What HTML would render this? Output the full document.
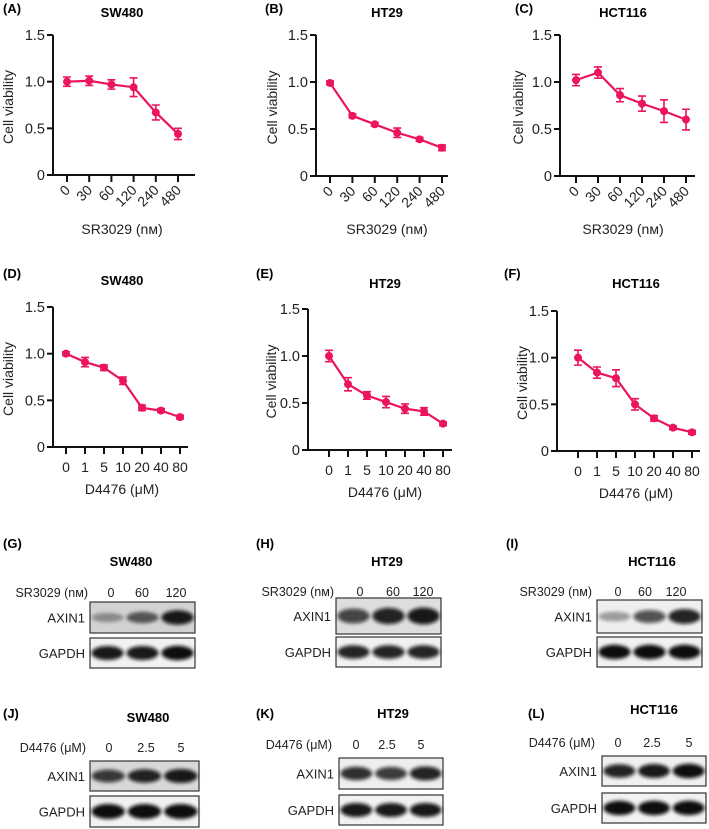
<!DOCTYPE html>
<html><head><meta charset="utf-8"><style>
html,body{margin:0;padding:0;background:#fff}
svg{display:block;font-family:"Liberation Sans",Arial,sans-serif}
</style></head><body>
<svg id="fig" width="709" height="829" viewBox="0 0 709 829" xmlns="http://www.w3.org/2000/svg">
<defs>
<filter id="blur" x="-30%" y="-100%" width="160%" height="300%"><feGaussianBlur stdDeviation="1.8"/></filter>
</defs>
</svg>
<script>
// ---- chart data ----
const srDoses = ["0","30","60","120","240","480"];
const d4Doses = ["0","1","5","10","20","40","80"];
const yTicks = [0, 0.5, 1.0, 1.5];
const yTickLabels = ["0","0.5","1.0","1.5"];
const sw480SR = [1.00, 1.01, 0.97, 0.94, 0.67, 0.44];
const sw480SRErr = [0.05, 0.05, 0.05, 0.10, 0.08, 0.06];
const ht29SR = [0.99, 0.64, 0.55, 0.46, 0.39, 0.30];
const ht29SRErr = [0.02, 0.02, 0.02, 0.05, 0.02, 0.03];
const hct116SR = [1.02, 1.10, 0.86, 0.77, 0.69, 0.60];
const hct116SRErr = [0.06, 0.06, 0.07, 0.08, 0.12, 0.11];
const sw480D4 = [1.00, 0.91, 0.85, 0.71, 0.42, 0.39, 0.32];
const sw480D4Err = [0.02, 0.05, 0.03, 0.04, 0.03, 0.02, 0.02];
const ht29D4 = [1.00, 0.70, 0.58, 0.51, 0.44, 0.41, 0.28];
const ht29D4Err = [0.06, 0.07, 0.04, 0.06, 0.05, 0.04, 0.02];
const hct116D4 = [1.00, 0.84, 0.78, 0.50, 0.35, 0.25, 0.20];
const hct116D4Err = [0.08, 0.06, 0.09, 0.06, 0.03, 0.02, 0.02];

const NS = "http://www.w3.org/2000/svg";
const svg = document.getElementById("fig");
const COL = "#EC135F";
function mk(tag, attrs, parent, text){
  const e = document.createElementNS(NS, tag);
  for (const k in attrs) e.setAttribute(k, attrs[k]);
  if (text !== undefined) e.textContent = text;
  (parent || svg).appendChild(e);
  return e;
}

const panels = [
 {id:"a",letter:"(A)",title:"SW480",lx:3,ly:13,tx:122,ty:17,ax:53,y0:175,y15:35,x0:67,dx:22.2,xend:195,cats:srDoses,vals:sw480SR,errs:sw480SRErr,rot:true,xt:"SR3029 (nм)",xtx:122,xty:234,yl:8},
 {id:"b",letter:"(B)",title:"HT29",lx:265,ly:13,tx:387,ty:17,ax:316,y0:176,y15:35,x0:330,dx:22.4,xend:448,cats:srDoses,vals:ht29SR,errs:ht29SRErr,rot:true,xt:"SR3029 (nм)",xtx:387,xty:234,yl:272},
 {id:"c",letter:"(C)",title:"HCT116",lx:515,ly:13,tx:623,ty:17,ax:560,y0:176,y15:35,x0:576,dx:22,xend:695,cats:srDoses,vals:hct116SR,errs:hct116SRErr,rot:true,xt:"SR3029 (nм)",xtx:623,xty:234,yl:518},
 {id:"d",letter:"(D)",title:"SW480",lx:3,ly:278,tx:122,ty:285,ax:53,y0:447,y15:307,x0:66,dx:19,xend:188,cats:d4Doses,vals:sw480D4,errs:sw480D4Err,rot:false,xt:"D4476 (μM)",xtx:122,xty:494,yl:8},
 {id:"e",letter:"(E)",title:"HT29",lx:256,ly:278,tx:385,ty:288,ax:308,y0:450,y15:309,x0:329,dx:19,xend:452,cats:d4Doses,vals:ht29D4,errs:ht29D4Err,rot:false,xt:"D4476 (μM)",xtx:385,xty:497,yl:271},
 {id:"f",letter:"(F)",title:"HCT116",lx:504,ly:278,tx:636,ty:288,ax:557,y0:451,y15:311,x0:578,dx:19,xend:700,cats:d4Doses,vals:hct116D4,errs:hct116D4Err,rot:false,xt:"D4476 (μM)",xtx:636,xty:498,yl:522}
];

panels.forEach(p=>{
  const g = mk("g",{});
  
  
  const yS = v => p.y0 - (v/1.5)*(p.y0-p.y15);
  const xS = i => p.x0 + i*p.dx;
  const lt = mk("text",{x:p.lx,y:p.ly,"font-size":13,"font-weight":"bold"},g,p.letter);
  
  
  const tt = mk("text",{x:p.tx,y:p.ty,"font-size":13,"font-weight":"bold","text-anchor":"middle"},g,p.title);
  
  
  const ya = mk("line",{x1:p.ax,y1:p.y15,x2:p.ax,y2:p.y0+1,stroke:"#111","stroke-width":2},g);
  
  
  const xa = mk("line",{x1:p.ax-1,y1:p.y0,x2:p.xend,y2:p.y0,stroke:"#111","stroke-width":2},g);
  
  
  yTicks.forEach((v,i)=>{
    mk("line",{x1:p.ax-6,y1:yS(v),x2:p.ax,y2:yS(v),stroke:"#111","stroke-width":2},g);
    const t = mk("text",{x:p.ax-8,y:yS(v)+5,"font-size":14.5,"text-anchor":"end",fill:"#222"},g,yTickLabels[i]);
    
    
  });
  p.cats.forEach((c,i)=>{
    const x = xS(i);
    mk("line",{x1:x,y1:p.y0,x2:x,y2:p.y0+7,stroke:"#111","stroke-width":2},g);
    let t;
    if(p.rot){
      t = mk("text",{x:x+4,y:p.y0+16,"font-size":14,"text-anchor":"end",fill:"#222",transform:`rotate(-45 ${x+4} ${p.y0+16})`},g,c);
    } else {
      t = mk("text",{x:x,y:p.y0+25,"font-size":14,"text-anchor":"middle",fill:"#222"},g,c);
    }
    
    
  });
  const xt = mk("text",{x:p.xtx,y:p.xty,"font-size":14,"text-anchor":"middle",fill:"#222"},g,p.xt);
  
  
  const ymid = (p.y0+p.y15)/2+2;
  const yt = mk("text",{x:p.yl+5,y:ymid,"font-size":14,"text-anchor":"middle",fill:"#222",transform:`rotate(-90 ${p.yl+5} ${ymid})`},g,"Cell viability");
  
  
  const pts = p.vals.map((v,i)=>`${xS(i)},${yS(v)}`).join(" ");
  const line = mk("polyline",{points:pts,fill:"none",stroke:COL,"stroke-width":2.2},g);
  
  
  p.vals.forEach((v,i)=>{
    const x = xS(i), e = p.errs[i];
    const eb = mk("path",{d:`M${x},${yS(v+e)}V${yS(v-e)}M${x-4},${yS(v+e)}H${x+4}M${x-4},${yS(v-e)}H${x+4}`,stroke:COL,"stroke-width":1.6,fill:"none"},g);
    
    
    const c = mk("circle",{cx:x,cy:yS(v),r:4,fill:COL},g);
    
    
  });
});

// ---- western blots ----
const blots = [
 {id:"g",letter:"(G)",lx:3,ly:548,title:"SW480",tx:131,ty:566,hdr:"SR3029 (nм)",hx:88,hy:597,lanes:["0","60","120"],lx3:[111,142,176],bx:90,bw:105,a:[602,633],gp:[638,668],axin:[0.35,0.6,0.95],gap:[0.95,0.95,1.0],bgA:"#d2d2d2"},
 {id:"h",letter:"(H)",lx:256,ly:548,title:"HT29",tx:387,ty:566,hdr:"SR3029 (nм)",hx:334,hy:596,lanes:["0","60","120"],lx3:[360,393,423],bx:336,bw:105,a:[598,634],gp:[637,667],axin:[0.75,0.9,0.95],gap:[0.9,0.9,0.9],bgA:"#dedede"},
 {id:"i",letter:"(I)",lx:506,ly:548,title:"HCT116",tx:652,ty:566,hdr:"SR3029 (nм)",hx:592,hy:596,lanes:["0","60","120"],lx3:[618,645,676],bx:597,bw:105,a:[600,633],gp:[637,667],axin:[0.35,0.7,0.9],gap:[1.0,1.0,1.0],bgA:"#efefef"},
 {id:"j",letter:"(J)",lx:3,ly:718,title:"SW480",tx:148,ty:722,hdr:"D4476 (μM)",hx:86,hy:752,lanes:["0","2.5","5"],lx3:[109,146,181],bx:90,bw:109,a:[761,791],gp:[796,827],axin:[0.8,0.9,0.95],gap:[1.0,1.0,1.0],bgA:"#d8d8d8"},
 {id:"k",letter:"(K)",lx:256,ly:718,title:"HT29",tx:393,ty:718,hdr:"D4476 (μM)",hx:332,hy:749,lanes:["0","2.5","5"],lx3:[356,387,421],bx:339,bw:104,a:[758,789],gp:[795,825],axin:[0.85,0.8,0.9],gap:[0.95,0.95,0.95],bgA:"#eeeeee"},
 {id:"l",letter:"(L)",lx:528,ly:718,title:"HCT116",tx:654,ty:714,hdr:"D4476 (μM)",hx:595,hy:747,lanes:["0","2.5","5"],lx3:[618,652,689],bx:602,bw:104,a:[756,786],gp:[793,823],axin:[0.9,0.95,1.0],gap:[1.0,1.0,1.0],bgA:"#f0f0f0"}
];
blots.forEach(b=>{
  const g = mk("g",{});
  
  
  const l = mk("text",{x:b.lx,y:b.ly,"font-size":13,"font-weight":"bold"},g,b.letter);
  
  
  const t = mk("text",{x:b.tx,y:b.ty,"font-size":13,"font-weight":"bold","text-anchor":"middle"},g,b.title);
  
  
  const h = mk("text",{x:b.hx,y:b.hy,"font-size":12.5,"text-anchor":"end",fill:"#222"},g,b.hdr);
  
  
  b.lanes.forEach((ln,i)=>{
    const e = mk("text",{x:b.lx3[i],y:b.hy,"font-size":12.5,"text-anchor":"middle",fill:"#222"},g,ln);
    
    
  });
  [["AXIN1",b.a,b.axin,b.bgA],["GAPDH",b.gp,b.gap,"#f2f2f2"]].forEach(([name,yy,ints,bg])=>{
    const h2 = yy[1]-yy[0];
    const lab = mk("text",{x:b.bx-5,y:yy[0]+h2/2+5,"font-size":13,"text-anchor":"end",fill:"#222"},g,name);
    
    
    const r = mk("rect",{x:b.bx,y:yy[0],width:b.bw,height:h2,fill:bg,stroke:"#333","stroke-width":1.2},g);
    
    
    const lw = b.bw/3;
    ints.forEach((v,i)=>{
      const cx = b.bx + lw*(i+0.5);
      const band = mk("ellipse",{cx:cx,cy:yy[0]+h2/2,rx:lw*0.46,ry:h2*(0.1+0.14*v),fill:"#0a0a0a","fill-opacity":v,filter:"url(#blur)"},g);
      
      
    });
  });
});
</script>
</body></html>
